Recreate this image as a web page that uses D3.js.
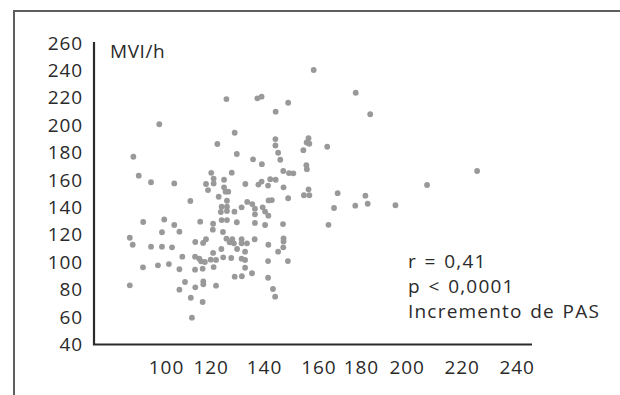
<!DOCTYPE html>
<html>
<head>
<meta charset="utf-8">
<script src="https://cdn.jsdelivr.net/npm/d3@7"></script>
<style>
  body { margin: 0; background: #fff; }
  text { font-family: "Open Sans", sans-serif; fill: #2a2a2a; }
</style>
</head>
<body>
<svg id="chart" width="620" height="395"></svg>
<script>
// Incremento de PAS (x) vs MVI/h (y)
const pas = [
  158.3, 177.6, 184.1, 125.9, 137.5, 139.1, 148.9, 144.3, 97.0, 129.0, 122.5, 144.2, 144.2, 156.4, 155.7,
  156.7, 129.8, 145.2, 154.5, 164.2, 85.4, 135.9, 139.2, 146.0, 155.6, 155.8, 87.8, 120.2, 127.9, 147.1,
  149.2, 150.8, 225.6, 93.3, 103.7, 117.9, 121.1, 125.0, 133.0, 137.9, 139.1, 142.3, 144.3, 207.4, 121.1,
  141.5, 147.2, 156.4, 154.7, 156.7, 169.1, 182.0, 118.8, 125.0, 125.6, 126.6, 110.9, 123.0, 126.1, 148.9,
  141.7, 142.9, 133.7, 135.6, 124.1, 126.1, 131.6, 136.6, 139.5, 123.8, 126.1, 128.9, 136.6, 140.4, 141.6,
  167.4, 177.4, 183.0, 195.1, 89.8, 99.2, 103.7, 115.3, 120.9, 124.1, 126.1, 129.8, 136.6, 140.4, 147.0,
  164.8,
  98.2, 106.0, 120.8, 124.6, 83.8, 85.1, 93.3, 98.2, 102.7, 113.1, 116.6, 117.9, 125.9, 127.1, 128.1,
  128.7, 129.9, 131.6, 131.6, 133.6, 136.5, 141.6, 147.2, 147.2, 147.1, 145.2, 124.0, 120.9, 132.9, 107.3,
  113.0, 114.9, 115.7, 117.4, 120.0, 122.0, 124.7, 127.7, 131.6, 132.9, 141.5, 148.8, 89.7, 96.4, 101.3,
  106.0, 113.0, 116.4, 121.1, 132.9, 129.0, 131.7, 135.5, 141.5, 83.8, 108.5, 116.7, 116.7, 113.1, 106.0,
  122.0, 143.3, 144.1, 111.1, 116.4, 111.6
];
const mvi = [
  240.3, 223.7, 208.0, 219.1, 219.6, 220.8, 216.4, 209.9, 200.7, 194.5, 186.3, 189.9, 185.2, 190.5, 187.4,
  186.5, 179.0, 179.9, 181.8, 184.3, 177.0, 175.1, 171.6, 174.8, 170.8, 167.9, 163.2, 165.3, 165.4, 166.6,
  165.1, 164.9, 166.6, 158.4, 157.5, 157.1, 161.1, 160.2, 157.1, 156.7, 158.9, 160.6, 160.2, 156.4, 157.5,
  156.0, 154.7, 153.2, 148.9, 148.9, 150.4, 148.6, 152.7, 154.7, 151.5, 151.5, 144.7, 147.8, 144.9, 146.7,
  145.1, 145.4, 144.0, 142.5, 140.5, 140.5, 140.1, 139.1, 140.1, 136.7, 137.4, 136.9, 135.0, 137.0, 134.0,
  139.6, 141.3, 142.7, 141.6, 129.4, 131.2, 127.2, 129.6, 128.1, 130.8, 130.8, 129.2, 128.7, 127.2, 127.9,
  127.3,
  121.9, 122.3, 123.8, 122.1, 117.9, 112.8, 111.4, 111.4, 110.9, 114.8, 114.1, 116.8, 117.2, 114.6, 116.8,
  113.8, 109.7, 116.8, 113.8, 113.8, 116.8, 112.8, 117.5, 115.2, 110.9, 107.7, 109.7, 106.8, 107.7, 104.1,
  104.1, 102.6, 100.7, 100.2, 101.9, 101.7, 103.6, 103.1, 102.6, 101.7, 100.9, 100.9, 96.3, 97.8, 98.7,
  94.9, 94.6, 95.3, 96.5, 96.0, 89.5, 89.8, 92.0, 88.7, 83.2, 85.6, 86.1, 83.9, 81.7, 80.0,
  82.9, 80.5, 74.9, 74.1, 71.0, 59.6
];
const xTicks = [100, 120, 140, 160, 180, 200, 220, 240];
const yTicks = [40, 60, 80, 100, 120, 140, 160, 180, 200, 220, 240, 260];
const yTitle = "MVI/h";
const statLines = ["r = 0,41", "p < 0,0001", "Incremento de PAS"];

const svg = d3.select('#chart');

// outer frame (only top and left edges fall inside the crop)
svg.append('path')
  .attr('d', 'M14,395 V11 H620')
  .attr('fill', 'none')
  .attr('stroke', '#5e5e5e')
  .attr('stroke-width', 2);

const plotLeft = 94, plotRight = 532, plotTop = 42, plotBottom = 344.5;

// the original x labels are not evenly spaced, so the scale is piecewise
const x = d3.scaleLinear()
  .domain(xTicks)
  .range([166, 210.7, 264, 318.3, 360.8, 406.7, 461.7, 516.7]);

const y = d3.scaleLinear()
  .domain([40, 260])
  .range([plotBottom, 43]);

svg.append('g')
  .selectAll('circle')
  .data(d3.zip(pas, mvi))
  .enter()
  .append('circle')
  .attr('cx', d => x(d[0]))
  .attr('cy', d => y(d[1]))
  .attr('r', 2.9)
  .attr('fill', '#999');

const yAxis = svg.append('g')
  .attr('transform', `translate(${plotLeft},0)`)
  .call(d3.axisLeft(y).tickValues(yTicks).tickSize(0).tickPadding(11));
yAxis.select('.domain').remove();
yAxis.selectAll('text')
  .attr('font-size', 19)
  .attr('letter-spacing', 0.9)
  .attr('font-family', '"Open Sans", sans-serif')
  .attr('fill', '#2a2a2a');

const xAxis = svg.append('g')
  .attr('transform', `translate(0,${plotBottom})`)
  .call(d3.axisBottom(x).tickValues(xTicks).tickSize(0).tickPadding(16));
xAxis.select('.domain').remove();
xAxis.selectAll('text')
  .attr('font-size', 19)
  .attr('letter-spacing', 0.9)
  .attr('font-family', '"Open Sans", sans-serif')
  .attr('fill', '#2a2a2a');

svg.append('path')
  .attr('d', `M${plotLeft},${plotTop} V${plotBottom} H${plotRight}`)
  .attr('fill', 'none')
  .attr('stroke', '#2b2b2b')
  .attr('stroke-width', 2.2);

svg.append('text')
  .attr('x', 110)
  .attr('y', 58)
  .attr('font-size', 19)
  .attr('letter-spacing', 0.6)
  .text(yTitle);

svg.append('g')
  .selectAll('text')
  .data(statLines)
  .enter()
  .append('text')
  .attr('x', 408)
  .attr('y', (d, i) => 268 + i * 25)
  .attr('font-size', 19)
  .attr('letter-spacing', 1.2)
  .attr('word-spacing', 1.5)
  .text(d => d);
</script>
</body>
</html>
